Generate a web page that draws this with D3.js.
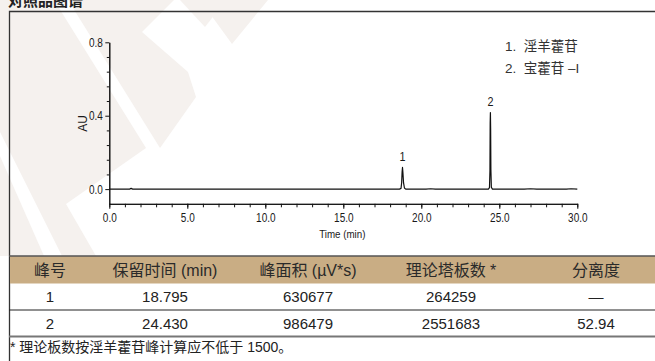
<!DOCTYPE html>
<html>
<head>
<meta charset="UTF-8">
<style>
  body { margin: 0; padding: 0; background: #fff; }
  svg { display: block; }
</style>
</head>
<body>
<svg id="chart" width="655" height="361"></svg>
<script src="https://cdn.jsdelivr.net/npm/d3@7/dist/d3.min.js"></script>
<script>
// chromatogram trace (time in min, absorbance in AU)
const traceTime = [0, 1.3, 1.4, 1.5, 5, 10, 15, 18.0, 18.6, 18.70, 18.74, 18.77, 18.795, 18.82, 18.86, 18.92, 19.0, 20.3, 20.6, 20.9, 23.5, 24.30, 24.37, 24.40, 24.415, 24.43, 24.445, 24.46, 24.49, 24.56, 26.6, 27.0, 27.4, 29.3, 29.6, 30];
const traceAU   = [0, 0, 0.004, 0, 0, 0, 0, 0, 0, 0.004, 0.035, 0.095, 0.118, 0.092, 0.035, 0.006, 0, 0, 0.002, 0, 0, 0, 0.008, 0.10, 0.36, 0.417, 0.33, 0.11, 0.01, 0, 0, 0.002, 0, 0, 0.002, 0];

const peakNames = ["1", "2"];
const peakTimes = [18.795, 24.430];
const legendItems = ["1.  淫羊藿苷", "2.  宝藿苷 –I"];

const xMajorTicks = [0, 5, 10, 15, 20, 25, 30];
const xMinorTicks = d3.range(0, 31, 1);
const yMajorTicks = [0.0, 0.4, 0.8];
const yMinorTicks = [0.08, 0.16, 0.24, 0.32, 0.48, 0.56, 0.64, 0.72];

const tableHeader = ["峰号", "保留时间 (min)", "峰面积 (µV*s)", "理论塔板数 *", "分离度"];
const tableRows = [
  ["1", "18.795", "630677", "264259", "—"],
  ["2", "24.430", "986479", "2551683", "52.94"]
];
const footnote = "* 理论板数按淫羊藿苷峰计算应不低于 1500。";
const title = "对照品图谱";

const W = 655, H = 361;
const svg = d3.select("#chart");
const cjk = "'Noto Sans CJK SC', sans-serif";
const latin = "'Liberation Sans', Arial, 'Noto Sans CJK SC', sans-serif";

// the chart's labels use a condensed face: squeeze the glyphs horizontally
function squeeze(sel, f) {
  sel.each(function() {
    let len = this.getComputedTextLength();
    d3.select(this).attr("textLength", len * f).attr("lengthAdjust", "spacingAndGlyphs");
  });
}

// faint watermark behind everything
const wm = svg.append("g").attr("fill", "#f5f1ee");
[
  [[0, 0], [54, 0], [146, 148], [66, 204], [96, 256], [0, 256]],
  [[68, 0], [174, 0], [142, 32], [188, 72], [196, 97], [160, 148]],
  [[180, 0], [226, 0], [205, 27]],
  [[200, 0], [268, 0], [232, 44]]
].forEach(p => wm.append("polygon").attr("points", p.join(" ")));
svg.append("polygon").attr("points", [[0, 132], [0, 156], [44, 256], [62, 256]].join(" ")).attr("fill", "#fff");

// title (cut at the top edge)
svg.append("text")
  .attr("x", 8).attr("y", 5.5)
  .attr("font-family", cjk).attr("font-weight", 700).attr("font-size", 15)
  .attr("fill", "#222")
  .text(title);

// frame
svg.append("path")
  .attr("d", `M9.5,${H} V11.5 H${W}`)
  .attr("fill", "none").attr("stroke", "#333").attr("stroke-width", 1.3);

// chart
const x = d3.scaleLinear().domain([0, 30]).range([109.3, 577.3]);
const y = d3.scaleLinear().domain([-0.08, 0.8]).range([203.8, 42.3]);

const g = svg.append("g");

const xMinor = g.append("g").attr("transform", `translate(0,${y(-0.08)})`)
  .call(d3.axisBottom(x).tickValues(xMinorTicks).tickSize(3.5).tickSizeOuter(0).tickFormat(""));
const xMajor = g.append("g").attr("transform", `translate(0,${y(-0.08)})`)
  .call(d3.axisBottom(x).tickValues(xMajorTicks).tickSize(5).tickSizeOuter(0).tickPadding(4.5).tickFormat(d3.format(".1f")));
const yMinor = g.append("g").attr("transform", `translate(${x(0)},0)`)
  .call(d3.axisLeft(y).tickValues(yMinorTicks).tickSize(2.5).tickSizeOuter(0).tickFormat(""));
const yMajor = g.append("g").attr("transform", `translate(${x(0)},0)`)
  .call(d3.axisLeft(y).tickValues(yMajorTicks).tickSize(4).tickSizeOuter(0).tickPadding(2.5).tickFormat(d3.format(".1f")));

[xMinor, xMajor, yMinor, yMajor].forEach(a => {
  a.selectAll("path, line").attr("stroke", "#111").attr("stroke-width", 1);
  a.selectAll("text").attr("fill", "#1a1a1a").attr("font-size", 12.5).attr("font-family", latin);
  squeeze(a.selectAll("text"), 0.8);
});

const xTitle = g.append("text")
  .attr("x", (x(0) + x(30)) / 2 - 1).attr("y", 238)
  .attr("text-anchor", "middle")
  .attr("font-family", latin).attr("font-size", 11.5).attr("fill", "#1a1a1a")
  .text("Time (min)");
squeeze(xTitle, 0.85);

const yTitle = g.append("text")
  .attr("transform", "translate(86.5,123.5) rotate(-90)")
  .attr("text-anchor", "middle")
  .attr("font-family", latin).attr("font-size", 12).attr("fill", "#1a1a1a")
  .text("AU");

const line = d3.line().x((d, i) => x(traceTime[i])).y(d => y(d));
g.append("path")
  .datum(traceAU)
  .attr("d", line)
  .attr("fill", "none").attr("stroke", "#111").attr("stroke-width", 1.2)
  .attr("stroke-linejoin", "round");

// peak labels above each peak
peakTimes.forEach((t, i) => {
  let top = d3.max(traceTime.map((tt, j) => Math.abs(tt - t) < 0.1 ? traceAU[j] : 0));
  let lab = g.append("text")
    .attr("x", x(t)).attr("y", y(top) - 6.5)
    .attr("text-anchor", "middle")
    .attr("font-family", latin).attr("font-size", 13.5).attr("fill", "#1a1a1a")
    .text(peakNames[i]);
  squeeze(lab, 0.8);
});

// legend
legendItems.forEach((s, i) => {
  g.append("text")
    .attr("x", 505).attr("y", 51 + i * 22)
    .attr("font-family", latin).attr("font-size", 13.5).attr("fill", "#333")
    .attr("xml:space", "preserve")
    .text(s);
});

// table
const colX = [50, 165, 308, 451, 596];
const headTop = 256, headH = 27.5, rowH = 26.5;
svg.append("rect")
  .attr("x", 10).attr("y", headTop).attr("width", W - 10).attr("height", headH)
  .attr("fill", "#c9ad84");
svg.append("line")
  .attr("x1", 9).attr("x2", W).attr("y1", headTop).attr("y2", headTop)
  .attr("stroke", "#555").attr("stroke-width", 1.5);

svg.selectAll("text.head")
  .data(tableHeader)
  .enter().append("text")
  .attr("class", "head")
  .attr("x", (d, i) => colX[i]).attr("y", headTop + 19.5)
  .attr("text-anchor", "middle")
  .attr("font-family", latin).attr("font-size", 16).attr("fill", "#2a2a2a")
  .text(d => d);

tableRows.forEach((row, r) => {
  let top = headTop + headH + r * rowH;
  svg.selectAll("text.row" + r)
    .data(row)
    .enter().append("text")
    .attr("class", "row" + r)
    .attr("x", (d, i) => colX[i]).attr("y", top + 18.5)
    .attr("text-anchor", "middle")
    .attr("font-family", latin).attr("font-size", 15).attr("fill", "#222")
    .text(d => d);
  svg.append("line")
    .attr("x1", 9).attr("x2", W).attr("y1", top + rowH).attr("y2", top + rowH)
    .attr("stroke", r == tableRows.length - 1 ? "#777" : "#222")
    .attr("stroke-width", r == tableRows.length - 1 ? 1.8 : 1);
});

svg.append("text")
  .attr("x", 10).attr("y", 351.5)
  .attr("font-family", latin).attr("font-size", 14).attr("fill", "#222")
  .text(footnote);
</script>
</body>
</html>
